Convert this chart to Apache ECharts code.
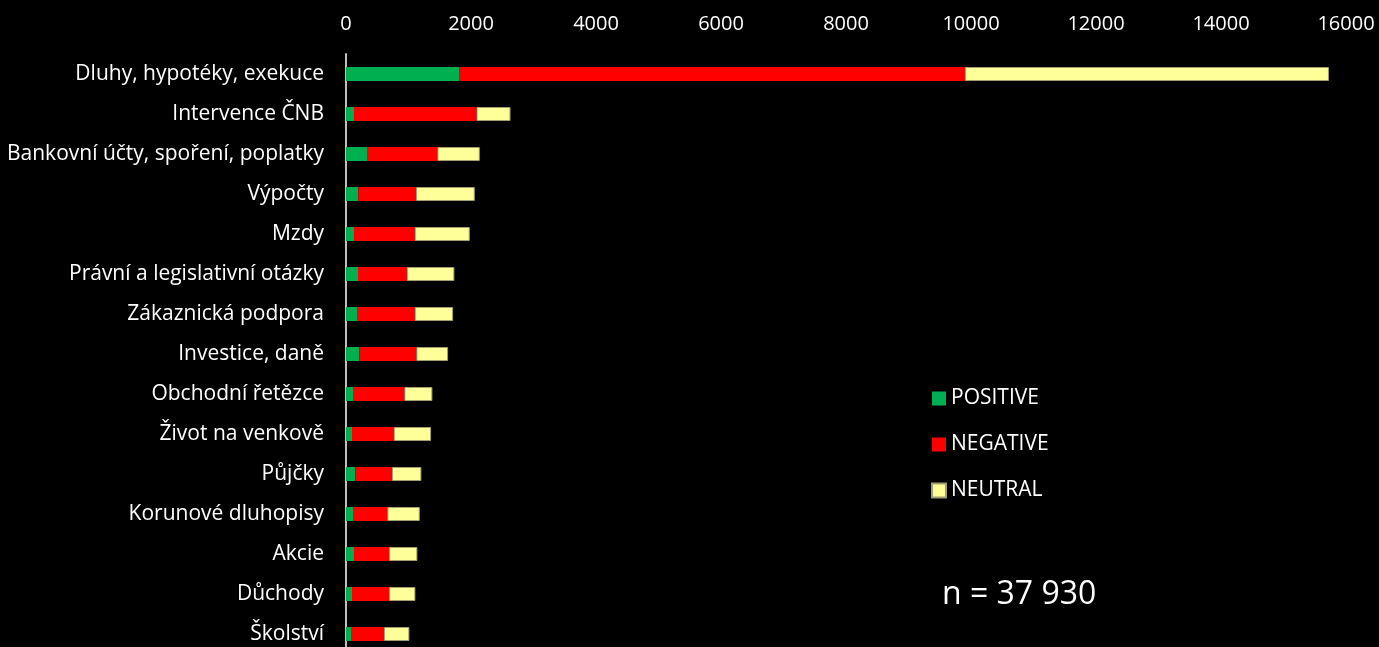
<!DOCTYPE html>
<html>
<head>
<meta charset="utf-8">
<script src="https://cdn.jsdelivr.net/npm/echarts@6/dist/echarts.min.js"></script>
<style>
html,body{margin:0;padding:0;background:#000;}
#main{width:1379px;height:647px;}
</style>
</head>
<body>
<div id="main"></div>
<script>
const categories = [
  "Dluhy, hypotéky, exekuce",
  "Intervence ČNB",
  "Bankovní účty, spoření, poplatky",
  "Výpočty",
  "Mzdy",
  "Právní a legislativní otázky",
  "Zákaznická podpora",
  "Investice, daně",
  "Obchodní řetězce",
  "Život na venkově",
  "Půjčky",
  "Korunové dluhopisy",
  "Akcie",
  "Důchody",
  "Školství"
];
const positive = [1817, 128, 336, 197, 128, 192, 176, 213, 112, 96, 149, 112, 128, 96, 91];
const negative = [8084, 1960, 1126, 924, 971, 780, 923, 913, 822, 667, 587, 549, 560, 592, 517];
const neutral  = [5826, 544, 678, 939, 881, 762, 614, 507, 448, 598, 470, 519, 454, 422, 406];
const seriesNames = ["POSITIVE", "NEGATIVE", "NEUTRAL"];
const annotation = "n = 37 930";

const FONT = "Open Sans";
const chart = echarts.init(document.getElementById('main'));
chart.setOption({
  backgroundColor: '#000',
  animation: false,
  textStyle: { fontFamily: FONT },
  grid: { left: 346, right: 33, top: 54, height: 600, containLabel: false, outerBoundsMode: 'none' },
  legend: {
    data: seriesNames,
    orient: 'vertical',
    left: 931,
    top: 388,
    padding: 0,
    itemWidth: 14,
    itemHeight: 14,
    itemGap: 25,
    icon: 'rect',
    textStyle: { color: '#fff', fontSize: 21, fontFamily: FONT }
  },
  xAxis: {
    type: 'value',
    position: 'top',
    min: 0, max: 16000, interval: 2000,
    axisLine: { show: false },
    axisTick: { show: false },
    splitLine: { show: false },
    axisLabel: { color: '#fff', fontSize: 20, margin: 20, fontFamily: FONT,
      formatter: function (v) { return String(v); } }
  },
  yAxis: {
    type: 'category',
    data: categories,
    inverse: true,
    axisLine: { show: true, lineStyle: { color: '#bfbfbf', width: 2 } },
    axisTick: { show: false },
    axisLabel: { color: '#fff', fontSize: 21, margin: 22, fontFamily: FONT }
  },
  series: [
    { name: seriesNames[0], type: 'bar', stack: 'a', data: positive, barWidth: 14,
      itemStyle: { color: '#00B050' } },
    { name: seriesNames[1], type: 'bar', stack: 'a', data: negative, barWidth: 14,
      itemStyle: { color: '#FF0000' } },
    { name: seriesNames[2], type: 'bar', stack: 'a', data: neutral, barWidth: 14,
      itemStyle: { color: '#FFFF99', borderColor: '#a0a070', borderWidth: 1 } }
  ],
  graphic: [{
    type: 'text', left: 942, top: 579,
    style: { text: annotation, fill: '#fff', fontSize: 32, fontFamily: FONT }
  }]
});
</script>
</body>
</html>
